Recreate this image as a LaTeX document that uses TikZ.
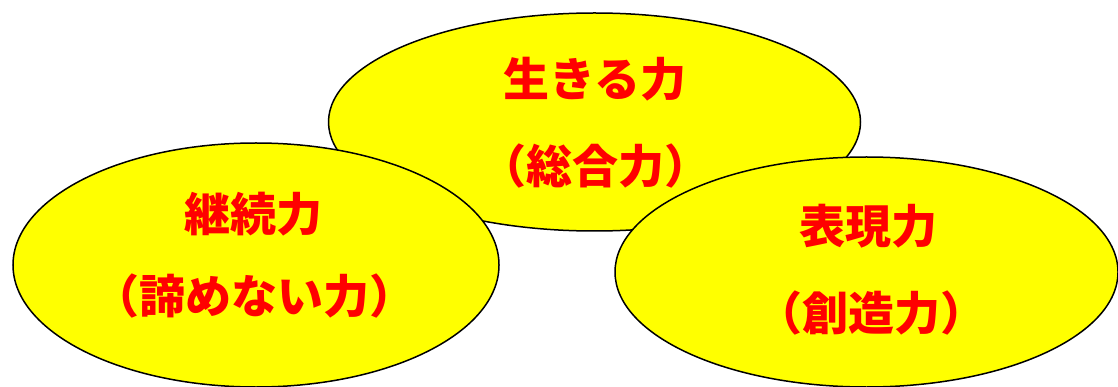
\documentclass[tikz,border=0pt]{standalone}
\usepackage{fontspec}
\newfontfamily\jp{Noto Sans CJK JP}
\usetikzlibrary{shapes.geometric}
\definecolor{bubble}{HTML}{FFFF00}
\definecolor{txtred}{HTML}{FF0000}
\tikzset{
  bubblebox/.style={ellipse, draw=black, line width=1.5pt, fill=bubble, inner sep=0pt},
  label/.style={text=txtred, font=\jp\bfseries\fontsize{46}{50}\selectfont, inner sep=0pt, anchor=center}
}
\begin{document}
\begin{tikzpicture}[x=1pt,y=-1pt]
\useasboundingbox (0,0) rectangle (1118,387);
\node[bubblebox, minimum width=532pt, minimum height=218pt] (top) at (594.5,122) {};
\node[bubblebox, minimum width=486pt, minimum height=244pt] (left) at (256,265) {};
\node[bubblebox, minimum width=503pt, minimum height=230pt] (right) at (866.5,272) {};
\node[label] (t1) at (595,79) {生きる力};
\node[label] (t2) at (595,166) {（総合力）};
\node[label] (l1) at (253,214) {継続力};
\node[label] (l2) at (254,296) {（諦めない力）};
\node[label] (r1) at (868,226) {表現力};
\node[label] (r2) at (871,313) {（創造力）};
\end{tikzpicture}
\end{document}
